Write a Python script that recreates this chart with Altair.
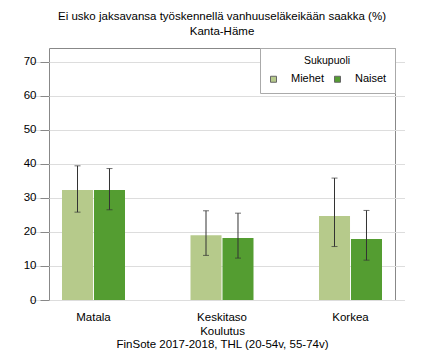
import altair as alt
import pandas as pd

categories = ["Matala", "Keskitaso", "Korkea"]
groups = ["Miehet", "Naiset"]
miehet = [32.3, 19.0, 24.7]
naiset = [32.3, 18.2, 17.9]
miehet_low = [25.8, 13.1, 15.7]
miehet_high = [39.4, 26.2, 35.8]
naiset_low = [26.5, 12.3, 11.7]
naiset_high = [38.6, 25.5, 26.3]
y_ticks = [0, 10, 20, 30, 40, 50, 60, 70]
colors = ["#b6ca8b", "#549d31"]

rows = []
for i, c in enumerate(categories):
    rows.append({"koulutus": c, "sukupuoli": "Miehet", "value": miehet[i], "low": miehet_low[i], "high": miehet_high[i]})
    rows.append({"koulutus": c, "sukupuoli": "Naiset", "value": naiset[i], "low": naiset_low[i], "high": naiset_high[i]})
df = pd.DataFrame(rows)

FONT = "Liberation Sans"
FS = 11.5

x = alt.X("koulutus:N", sort=categories,
          scale=alt.Scale(range=[-19.75, 365.75], paddingInner=0, paddingOuter=0),
          axis=alt.Axis(title=["Koulutus", "FinSote 2017-2018, THL (20-54v, 55-74v)"],
                        labelAngle=0, ticks=False, domain=False, labelPadding=11,
                        titleY=25, titleBaseline="top", titleLineHeight=13,
                        titleFontWeight="normal",
                        labelFontSize=FS, titleFontSize=FS, labelColor="#000", titleColor="#000"))
xo = alt.XOffset("sukupuoli:N", sort=groups,
                 scale=alt.Scale(range=[32.75, 95.75], paddingInner=0.03, paddingOuter=0))
y_scale = alt.Scale(domain=[0, 74], nice=False)
y_axis = alt.Axis(title=None, values=y_ticks, domain=False,
                  tickSize=9, tickColor="#888", labelPadding=4, gridColor="#dddddd",
                  labelFontSize=FS, labelColor="#000")

bars = alt.Chart(df).mark_bar().encode(
    x=x, xOffset=xo,
    y=alt.Y("value:Q", scale=y_scale, axis=y_axis),
    color=alt.Color("sukupuoli:N", sort=groups, scale=alt.Scale(domain=groups, range=colors),
                    legend=alt.Legend(title="Sukupuoli", orient="top-right", offset=0,
                                      direction="horizontal", titleAnchor="middle",
                                      titleFontWeight="normal", titleFontSize=10.5, labelFontSize=11,
                                      symbolType="square", symbolSize=36, symbolStrokeWidth=1,
                                      symbolStrokeColor="#666", labelOffset=12, columnPadding=7,
                                      padding=8, titlePadding=7, strokeColor="#aaa",
                                      fillColor="white", labelColor="#000", titleColor="#000")),
)

rules = alt.Chart(df).mark_rule(color="#333", strokeWidth=1).encode(
    x=x, xOffset=xo, y=alt.Y("low:Q", scale=y_scale, axis=y_axis), y2="high:Q")
caps_low = alt.Chart(df).mark_tick(color="#333", size=6, thickness=1).encode(
    x=x, xOffset=xo, y=alt.Y("low:Q", scale=y_scale, axis=y_axis))
caps_high = alt.Chart(df).mark_tick(color="#333", size=6, thickness=1).encode(
    x=x, xOffset=xo, y=alt.Y("high:Q", scale=y_scale, axis=y_axis))

chart = alt.layer(bars, rules, caps_low, caps_high).properties(
    width=346, height=252,
    title=alt.TitleParams(["Ei usko jaksavansa työskennellä vanhuuseläkeikään saakka (%)", "Kanta-Häme"],
                          fontSize=FS, fontWeight="normal", lineHeight=15, offset=10, color="#000",
                          anchor="middle", font=FONT),
    autosize=alt.AutoSizeParams(type="none"),
    padding={"left": 41, "top": 40, "right": 10, "bottom": 60},
).configure(font=FONT).configure_view(stroke="#888", strokeWidth=1)

chart.save("out.html", embed_options={"renderer": "svg", "actions": False})
